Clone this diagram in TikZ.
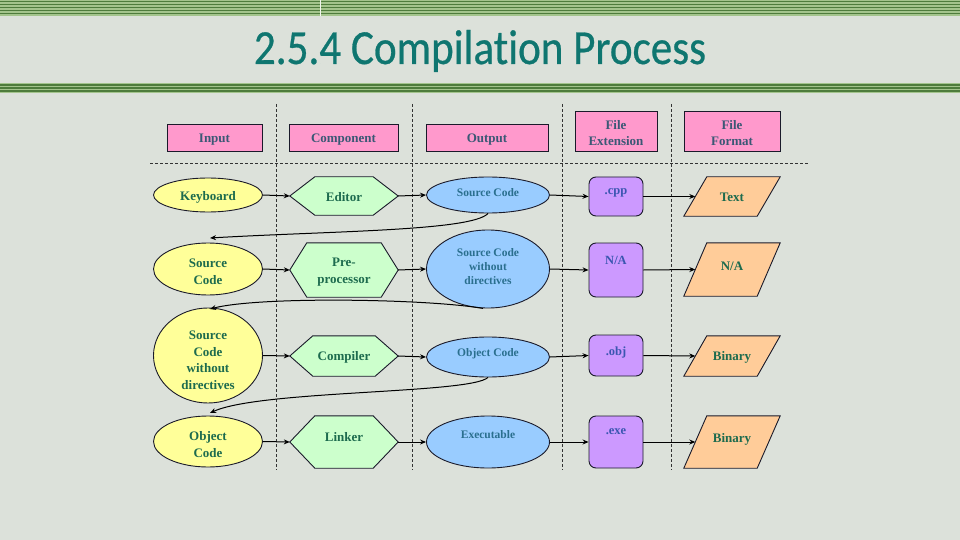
\documentclass[tikz,border=0pt]{standalone}
\usepackage{fontspec}
\setmainfont{Liberation Serif}
\newfontfamily\titlefont{Carlito}[Ligatures=NoCommon,FakeBold=0.6]
\usetikzlibrary{shapes.geometric,arrows.meta}
\pgfdeclarelayer{background}
\pgfsetlayers{background,main}
\definecolor{bgc}{HTML}{DCE1DA}
\definecolor{stripel}{HTML}{A3C48C}
\definecolor{striped}{HTML}{4E7C3C}
\definecolor{titlec}{HTML}{0F7670}
\definecolor{pinkc}{HTML}{FF99CC}
\definecolor{yellc}{HTML}{FFFF99}
\definecolor{greenc}{HTML}{CCFFCC}
\definecolor{bluec}{HTML}{99CCFF}
\definecolor{purc}{HTML}{CC99FF}
\definecolor{orc}{HTML}{FFCC99}
\definecolor{hdrtxt}{HTML}{3B5875}
\definecolor{gtxt}{HTML}{1D6B4E}
\definecolor{btxt}{HTML}{2A6F8E}
\definecolor{ptxt}{HTML}{3A56B0}
\definecolor{edge}{HTML}{1A1A2A}
\tikzset{
  hdr/.style={draw=edge, line width=0.9pt, fill=pinkc, inner sep=0pt},
  htext/.style={text=hdrtxt, font=\bfseries\fontsize{13}{16}\selectfont, align=center},
  yell/.style={ellipse, draw=edge, line width=0.9pt, fill=yellc, inner sep=0pt},
  blu/.style={ellipse, draw=edge, line width=0.9pt, fill=bluec, inner sep=0pt},
  btext/.style={text=btxt, font=\bfseries\fontsize{11.5}{14}\selectfont, align=center},
  pur/.style={rectangle, rounded corners=7pt, draw=edge, line width=0.9pt, fill=purc, inner sep=0pt, minimum width=54pt},
  ptext/.style={text=ptxt, font=\bfseries\fontsize{12.5}{15}\selectfont, anchor=north},
  hexs/.style={draw=edge, line width=0.9pt, fill=greenc},
  pars/.style={draw=edge, line width=0.9pt, fill=orc},
  shtxt/.style={text=gtxt, font=\bfseries\fontsize{13}{16.5}\selectfont, align=center, inner sep=0pt},
  flow/.style={draw=black, line width=1pt, -{Stealth[length=6pt,width=5pt]}},
  sep/.style={draw=black!80, dashed, line width=0.8pt, dash pattern=on 3pt off 2pt},
}
% #1 name #2 x #3 y #4 w #5 h #6 inset #7 text #8 text yshift
\newcommand\hexa[8]{%
  \node[minimum width=#4pt, minimum height=#5pt, inner sep=0pt, label={[shtxt, yshift=#8pt]center:{#7}}] (#1) at (#2,#3) {};
  \begin{pgfonlayer}{background}
  \draw[hexs] (#1.west) -- ([xshift=#6pt]#1.north west) -- ([xshift=-#6pt]#1.north east) -- (#1.east) -- ([xshift=-#6pt]#1.south east) -- ([xshift=#6pt]#1.south west) -- cycle;
  \end{pgfonlayer}}
\newcommand\para[8]{%
  \node[minimum width=#4pt, minimum height=#5pt, inner sep=0pt, label={[shtxt, yshift=#8pt]center:{#7}}] (#1) at (#2,#3) {};
  \begin{pgfonlayer}{background}
  \draw[pars] (#1.south west) -- ([xshift=#6pt]#1.north west) -- (#1.north east) -- ([xshift=-#6pt]#1.south east) -- cycle;
  \end{pgfonlayer}
  \coordinate (#1in) at ([xshift=11.5pt]#1.west);}
\begin{document}
\begin{tikzpicture}[x=1pt,y=-1pt]
\useasboundingbox (0,0) rectangle (960,540);
\begin{pgfonlayer}{background}
\fill[bgc] (0,0) rectangle (960,540);
\fill[stripel] (0,0) rectangle (960,16.5);
\foreach \yy in {0.8,3.8,6.8,9.8,12.8} \fill[striped] (0,\yy) rectangle (960,\yy+1.6);
\draw[white!85!stripel, line width=1pt] (320,0) -- (320,16.5);
\fill[stripel] (0,83) rectangle (960,93.5);
\foreach \yy in {84,87,90} \fill[striped] (0,\yy) rectangle (960,\yy+1.7);
\end{pgfonlayer}

\node[font=\titlefont\fontsize{49}{52}\selectfont, text=titlec, xscale=0.88, anchor=base, inner sep=0pt] (title) at (480,64) {2.5.4 Compilation Process};

% separators
\coordinate (h1) at (150,163); \coordinate (h2) at (808,163);
\draw[sep] (h1) -- (h2);
\foreach \xx/\nn in {276/a,412/b,562/c,671/d}{
  \coordinate (v\nn t) at (\xx,104); \coordinate (v\nn b) at (\xx,470);
  \draw[sep] (v\nn t) -- (v\nn b);}

% headers
\node[hdr, minimum width=95pt, minimum height=27pt, label={[htext, yshift=-2pt]center:Input}] (hin) at (214.5,137.5) {};
\node[hdr, minimum width=109pt, minimum height=27pt, label={[htext, yshift=-2pt]center:Component}] (hcomp) at (343.5,137.5) {};
\node[hdr, minimum width=122pt, minimum height=27pt, label={[htext, yshift=-2pt]center:Output}] (hout) at (487,137.5) {};
\node[hdr, minimum width=82pt, minimum height=40pt, label={[htext, yshift=-2pt]center:File\\Extension}] (hext) at (616,131) {};
\node[hdr, minimum width=96pt, minimum height=40pt, label={[htext, yshift=-2pt]center:File\\Format}] (hfmt) at (732,131) {};

% row 1
\node[yell, minimum width=109pt, minimum height=34pt, label={[shtxt, yshift=-2pt]center:Keyboard}] (kb) at (208,195) {};
\hexa{ed}{344}{196}{108}{38}{25}{Editor}{-1}
\node[blu, minimum width=123pt, minimum height=36pt, label={[btext, yshift=2pt]center:Source Code}] (sc1) at (488,195) {};
\node[pur, minimum height=39pt, label={[ptext, yshift=-9pt]north:.cpp}] (cpp) at (616,196.5) {};
\para{txt}{732}{196.5}{96}{39}{23}{Text}{-1}

% row 2
\node[yell, minimum width=109pt, minimum height=52pt, label={[shtxt, yshift=-3pt]center:Source\\Code}] (sc2) at (208,269) {};
\hexa{pp}{344}{270}{108}{54}{17}{Pre-\\processor}{-2}
\node[blu, minimum width=123pt, minimum height=78pt, label={[btext, yshift=2pt]center:Source Code\\without\\directives}] (scwd) at (488,269) {};
\node[pur, minimum height=54pt, label={[ptext, yshift=-10pt]north:N/A}] (na1) at (616,270) {};
\para{na2}{732}{269.5}{96}{53}{23}{N/A}{3}

% row 3
\node[yell, minimum width=109pt, minimum height=95pt, label={[shtxt, yshift=-5pt]center:Source\\Code\\without\\directives}] (scwd2) at (208,355.5) {};
\hexa{cmp}{344}{356}{108}{40}{23}{Compiler}{-1}
\node[blu, minimum width=123pt, minimum height=40pt, label={[btext, yshift=3pt]center:Object Code}] (obj1) at (488,357) {};
\node[pur, minimum height=41pt, label={[ptext, yshift=-9pt]north:.obj}] (objx) at (616,355.5) {};
\para{bin1}{732}{356}{96}{40}{23}{Binary}{-1}

% row 4
\node[yell, minimum width=109pt, minimum height=51pt, label={[shtxt, yshift=-3pt]center:Object\\Code}] (obj2) at (208,441.5) {};
\hexa{lnk}{344}{442}{108}{52}{25}{Linker}{5}
\node[blu, minimum width=123pt, minimum height=52pt, label={[btext, yshift=7pt]center:Executable}] (exe) at (488,442) {};
\node[pur, minimum height=52pt, label={[ptext, yshift=-10pt]north:.exe}] (exex) at (616,442) {};
\para{bin2}{732}{442}{96}{52}{23}{Binary}{3}

% horizontal flows
\draw[flow] (kb.east) -- (ed.west);
\draw[flow] (ed.east) -- (sc1.west);
\draw[flow] (sc1.east) -- (cpp.west);
\draw[flow] (cpp.east) -- (txtin);
\draw[flow] (sc2.east) -- (pp.west);
\draw[flow] (pp.east) -- (scwd.west);
\draw[flow] (scwd.east) -- (na1.west);
\draw[flow] (na1.east) -- (na2in);
\draw[flow] (scwd2.east) -- (cmp.west);
\draw[flow] (cmp.east) -- (obj1.west);
\draw[flow] (obj1.east) -- (objx.west);
\draw[flow] (objx.east) -- (bin1in);
\draw[flow] (obj2.east) -- (lnk.west);
\draw[flow] (lnk.east) -- (exe.west);
\draw[flow] (exe.east) -- (exex.west);
\draw[flow] (exex.east) -- (bin2in);

% feedback curves
\coordinate (r1) at (210,238);
\coordinate (r2) at (210,309);
\coordinate (r3) at (210,413);
\draw[flow] (sc1.south) .. controls (472,231) and (330,231) .. (r1);
\draw[flow] ([xshift=-5pt]scwd.south) .. controls (430,299) and (260,296) .. (r2);
\draw[flow] (obj1.south) .. controls (470,394) and (260,390) .. (r3);
\end{tikzpicture}
\end{document}
